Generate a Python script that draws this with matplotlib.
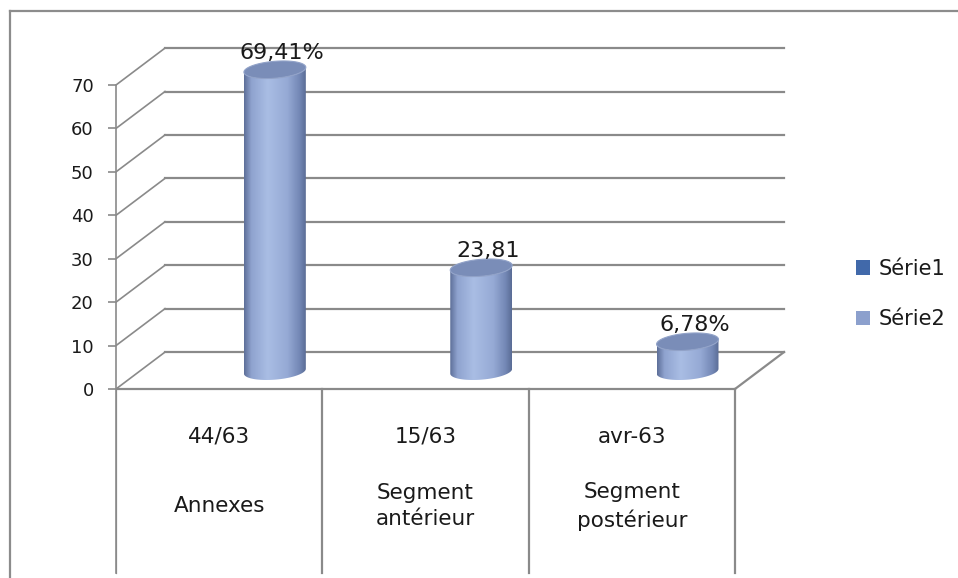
import matplotlib
matplotlib.use('Agg')

import matplotlib.pyplot as plt
import numpy as np
from matplotlib.colors import LinearSegmentedColormap
from matplotlib.lines import Line2D
from matplotlib.patches import Patch, Polygon


# --- Data ---
CODES = ['44/63', '15/63', 'avr-63']
NAMES = ['Annexes', 'Segment\nantérieur', 'Segment\npostérieur']
VALUES = [69.41, 23.81, 6.78]
SUFFIXES = ['%', '', '%']
Y_TICKS = [0, 10, 20, 30, 40, 50, 60, 70]
SERIES = ['Série1', 'Série2']

# --- Style ---
W, H = 958, 578
GRID = '#8a8a8a'
TEXT = '#1a1a1a'
DX, DY = 0.2375, 8.5        # depth offset of the back wall (cat units, value units)
BAR_SHIFT = 0.27            # cylinders sit halfway into the floor
BAR_BASE = 4.1
HALF_W = 0.15
CAP_B = 1.95                # ellipse half-height (value units)
CAP_TILT = 0.55             # right end of each ellipse sits a bit higher
SERIES_COLORS = ['#4169AA', '#8CA0CD']

body_cmap = LinearSegmentedColormap.from_list('cyl', [
    (0.00, '#5d6f98'), (0.12, '#8fa3cf'), (0.38, '#a9bde4'),
    (0.70, '#96aad5'), (0.90, '#7387b5'), (1.00, '#5a6c95')])

fig = plt.figure(figsize=(W / 100, H / 100), dpi=100, facecolor='white')

# outer chart frame (only left and top edges fall inside the image)
fx, fy = 10 / W, 1 - 11 / H
fig.add_artist(Line2D([fx, fx], [0, fy], color='#8c8c8c', lw=1.6))
fig.add_artist(Line2D([fx, 1], [fy, fy], color='#8c8c8c', lw=1.6))

# axes: front plane spans x 116..735 px, value 0..70 over y 389..85 px
n = len(VALUES)
PX_X = (735 - 116) / n
PX_Y = (389 - 85) / 70
XMAX, YMIN, YMAX = 3.4, -45, 82
left_px, bottom_px = 116, 389 + (-YMIN) * PX_Y
ax = fig.add_axes([left_px / W, 1 - bottom_px / H,
                   XMAX * PX_X / W, (YMAX - YMIN) * PX_Y / H])
ax.set_xlim(0, XMAX)
ax.set_ylim(YMIN, YMAX)
ax.patch.set_visible(False)
for side in ['top', 'right', 'bottom']:
    ax.spines[side].set_visible(False)
ax.spines['left'].set_color(GRID)
ax.spines['left'].set_linewidth(1.2)
ax.spines['left'].set_bounds(-42.4, 70)
ax.set_xticks([])
ax.set_yticks(Y_TICKS)
ax.tick_params(axis='y', length=6, width=1.2, color=GRID, pad=10,
               labelsize=13, labelcolor=TEXT)

# side wall diagonals and back wall gridlines
for v in Y_TICKS:
    ax.plot([0, DX], [v, v + DY], color=GRID, lw=1.2, zorder=1)
    ax.plot([DX, n + DX], [v + DY, v + DY], color=GRID, lw=1.6, zorder=1)

# floor edges
ax.plot([0, n], [0, 0], color=GRID, lw=1.6, zorder=1)
ax.plot([n, n + DX], [0, DY], color=GRID, lw=1.6, zorder=1)

# category table dividers below the floor
for i in range(n + 1):
    ax.plot([i, i], [0, -42.4], color=GRID, lw=1.6, zorder=1)

for i in range(n):
    ax.text(i + 0.5, -11.0, CODES[i], ha='center', va='center',
            fontsize=15.5, color=TEXT)
    ax.text(i + 0.5, -27.0, NAMES[i], ha='center', va='center',
            fontsize=15.5, color=TEXT, linespacing=1.4)


def ellipse_pts(cx, cy, t):
    xs = cx + HALF_W * np.cos(t)
    ys = cy + CAP_B * np.sin(t) + CAP_TILT * np.cos(t)
    return np.column_stack([xs, ys])


# cylinders
for i, v in enumerate(VALUES):
    cx = i + 0.5 + BAR_SHIFT
    top = BAR_BASE + v
    lower = ellipse_pts(cx, BAR_BASE, np.linspace(np.pi, 2 * np.pi, 60))
    upper = ellipse_pts(cx, top, np.linspace(2 * np.pi, np.pi, 60))
    body = Polygon(np.vstack([lower, upper]), closed=True,
                   facecolor='none', edgecolor='none')
    ax.add_patch(body)
    grad = np.linspace(0, 1, 256).reshape(1, -1)
    im = ax.imshow(grad, cmap=body_cmap, aspect='auto', zorder=3,
                   extent=[cx - HALF_W, cx + HALF_W,
                           BAR_BASE - 3, top + 3])
    im.set_clip_path(body)

    cap = Polygon(ellipse_pts(cx, top, np.linspace(0, 2 * np.pi, 120)),
                  closed=True, facecolor='#7a8db8', edgecolor='#91a2c8',
                  lw=0.8, zorder=4)
    ax.add_patch(cap)

    label = f'{v:.2f}'.replace('.', ',') + SUFFIXES[i]
    ax.annotate(label, (cx, top), xytext=(5, 5), textcoords='offset points',
                ha='center', va='bottom', fontsize=16, color=TEXT,
                annotation_clip=False, zorder=5)

ax.set_xlim(0, XMAX)
ax.set_ylim(YMIN, YMAX)

handles = [Patch(facecolor=c, edgecolor='none') for c in SERIES_COLORS]
fig.legend(handles, SERIES, loc='center left', frameon=False,
           bbox_to_anchor=(837 / W, 1 - 294 / H), fontsize=15,
           handlelength=0.7, handleheight=0.7, handletextpad=0.4,
           labelspacing=1.45, labelcolor=TEXT)

fig.savefig('out.png', dpi=100, facecolor='white')
